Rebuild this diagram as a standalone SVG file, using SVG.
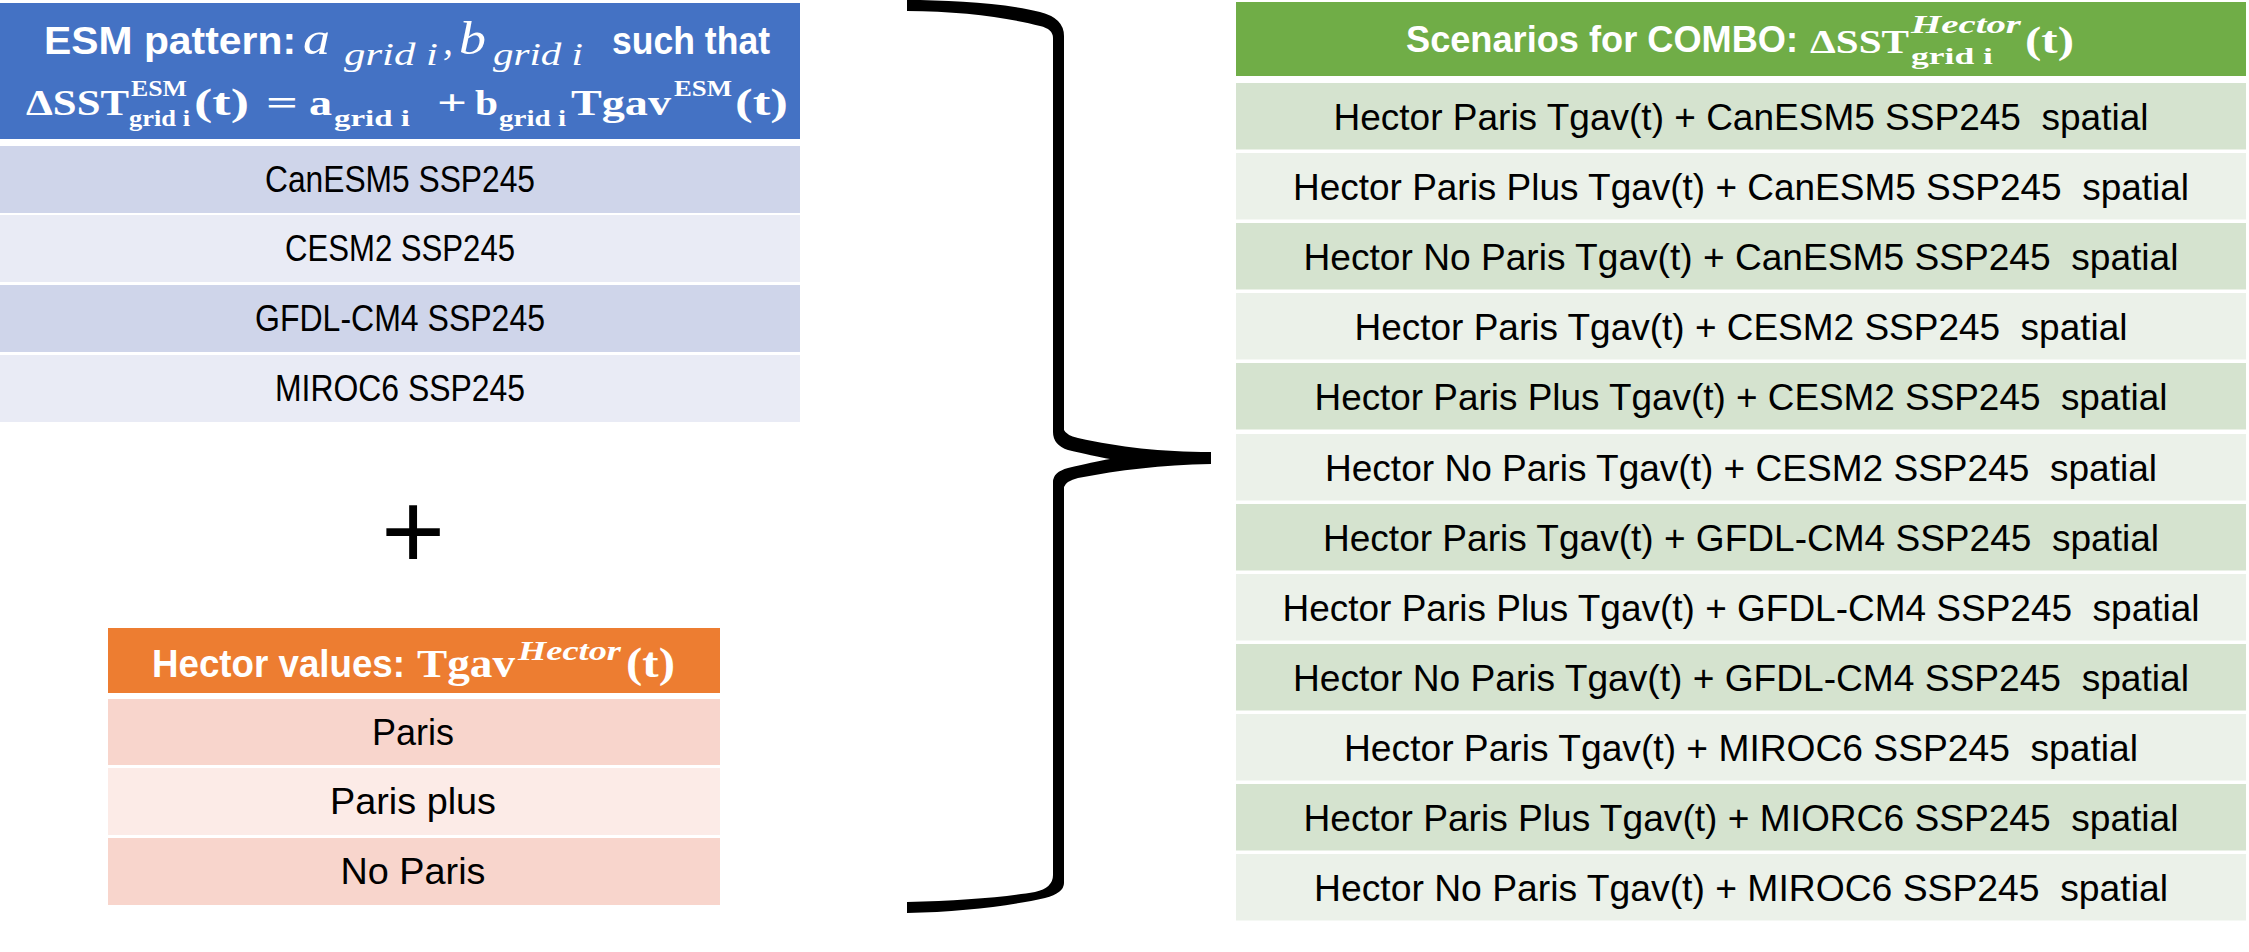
<svg xmlns="http://www.w3.org/2000/svg" width="2249" height="952" viewBox="0 0 2249 952">
<style>
.hdr{font-family:"Liberation Sans",Arial,sans-serif;font-weight:bold;font-size:39px;fill:#fff}
.m{font-family:"Liberation Serif","Times New Roman",serif;font-weight:bold;fill:#fff}
.mi{font-family:"Liberation Serif","Times New Roman",serif;font-style:italic;fill:#fff}
.mbi{font-family:"Liberation Serif","Times New Roman",serif;font-style:italic;font-weight:bold;fill:#fff}
.row{font-family:"Liberation Sans",Arial,sans-serif;font-size:37px;fill:#000;text-anchor:middle;white-space:pre}
.rowl{font-family:"Liberation Sans",Arial,sans-serif;font-size:37px;fill:#000;text-anchor:middle}
.b1{fill:#CFD5EA}.b2{fill:#E9EBF5}
.o1{fill:#F8D5CC}.o2{fill:#FCEBE7}
.g1{fill:#D5E3CF}.g2{fill:#EBF1E9}
</style>
<rect width="2249" height="952" fill="#fff"/>
<g id="esm-table">
<rect x="0" y="3" width="800" height="136" fill="#4472C4"/>
<text class="hdr" x="44" y="54" textLength="252" lengthAdjust="spacingAndGlyphs">ESM pattern:</text>
<text class="mi" x="303" y="54" font-size="46" textLength="27" lengthAdjust="spacingAndGlyphs">a</text>
<text class="mi" x="344" y="65" font-size="31" textLength="94" lengthAdjust="spacingAndGlyphs">grid i</text>
<text class="mi" x="443" y="54" font-size="40">,</text>
<text class="mi" x="459" y="54" font-size="46" textLength="27" lengthAdjust="spacingAndGlyphs">b</text>
<text class="mi" x="493" y="65" font-size="31" textLength="90" lengthAdjust="spacingAndGlyphs">grid i</text>
<text class="hdr" x="612" y="54" textLength="158" lengthAdjust="spacingAndGlyphs">such that</text>
<text class="m" x="26" y="115" font-size="35" textLength="103" lengthAdjust="spacingAndGlyphs">ΔSST</text>
<text class="m" x="131" y="96" font-size="24" textLength="56" lengthAdjust="spacingAndGlyphs">ESM</text>
<text class="m" x="129" y="126" font-size="24" textLength="61" lengthAdjust="spacingAndGlyphs">grid i</text>
<text class="m" x="194" y="115" font-size="38" textLength="55" lengthAdjust="spacingAndGlyphs">(t)</text>
<text class="m" x="266" y="115" font-size="35" textLength="32" lengthAdjust="spacingAndGlyphs">=</text>
<text class="m" x="309" y="115" font-size="35" textLength="23" lengthAdjust="spacingAndGlyphs">a</text>
<text class="m" x="334" y="126" font-size="24" textLength="76" lengthAdjust="spacingAndGlyphs">grid i</text>
<text class="m" x="437" y="115" font-size="35" textLength="30" lengthAdjust="spacingAndGlyphs">+</text>
<text class="m" x="475" y="115" font-size="35" textLength="23" lengthAdjust="spacingAndGlyphs">b</text>
<text class="m" x="499" y="126" font-size="24" textLength="67" lengthAdjust="spacingAndGlyphs">grid i</text>
<text class="m" x="571" y="115" font-size="35" textLength="100" lengthAdjust="spacingAndGlyphs">Tgav</text>
<text class="m" x="674" y="96" font-size="24" textLength="58" lengthAdjust="spacingAndGlyphs">ESM</text>
<text class="m" x="735" y="115" font-size="38" textLength="53" lengthAdjust="spacingAndGlyphs">(t)</text>
<rect class="b1" x="0" y="146" width="800" height="67"/>
<rect class="b2" x="0" y="215" width="800" height="67"/>
<rect class="b1" x="0" y="285" width="800" height="67"/>
<rect class="b2" x="0" y="355" width="800" height="67"/>
<text class="rowl" x="400" y="192" textLength="270" lengthAdjust="spacingAndGlyphs">CanESM5 SSP245</text>
<text class="rowl" x="400" y="261" textLength="230" lengthAdjust="spacingAndGlyphs">CESM2 SSP245</text>
<text class="rowl" x="400" y="331" textLength="290" lengthAdjust="spacingAndGlyphs">GFDL-CM4 SSP245</text>
<text class="rowl" x="400" y="401" textLength="250" lengthAdjust="spacingAndGlyphs">MIROC6 SSP245</text>
</g>
<g id="plus">
<text x="413" y="569" font-family="Liberation Sans, Arial, sans-serif" font-size="110" text-anchor="middle" fill="#000">+</text>
</g>
<g id="hector-table">
<rect x="108" y="628" width="612" height="65" fill="#ED7D31"/>
<text class="hdr" x="152" y="677" textLength="253" lengthAdjust="spacingAndGlyphs">Hector values:</text>
<text class="m" x="417" y="677" font-size="40" textLength="98" lengthAdjust="spacingAndGlyphs">Tgav</text>
<text class="mbi" x="518" y="660" font-size="27" textLength="103" lengthAdjust="spacingAndGlyphs">Hector</text>
<text class="m" x="626" y="677" font-size="42" textLength="49" lengthAdjust="spacingAndGlyphs">(t)</text>
<rect class="o1" x="108" y="699" width="612" height="66"/>
<rect class="o2" x="108" y="768" width="612" height="67"/>
<rect class="o1" x="108" y="838" width="612" height="67"/>
<text class="rowl" x="413" y="745" textLength="82" lengthAdjust="spacingAndGlyphs">Paris</text>
<text class="rowl" x="413" y="814" textLength="166" lengthAdjust="spacingAndGlyphs">Paris plus</text>
<text class="rowl" x="413" y="884" textLength="145" lengthAdjust="spacingAndGlyphs">No Paris</text>
</g>
<g id="connectors">
<path id="brace" fill="#000" d="M907,0 C950,0 1005,3 1040,12 Q1064,18 1064,36 L1064,430 Q1066,435 1078,438 C1120,447 1160,452 1211,452 L1211,464 C1160,465 1120,470 1078,478 Q1066,481 1064,487 L1064,883 Q1064,893 1045,898 C1010,906 960,912 907,913 L907,902 C960,901 1005,897 1035,892 Q1053,888 1053,875 L1053,482 Q1053,472 1068,468 C1085,464 1098,461 1110,459 C1098,457 1085,454 1068,450 Q1053,445 1053,432 L1053,38 Q1053,29 1040,26 C1010,18 960,11 907,11 Z"/>
</g>
<g id="scenario-table">
<rect x="1236" y="2" width="1010" height="74" fill="#70AD47"/>
<text class="hdr" x="1406" y="52" font-size="36" textLength="392" lengthAdjust="spacingAndGlyphs" style="font-size:36px">Scenarios for COMBO:</text>
<text class="m" x="1810" y="53" font-size="33" textLength="99" lengthAdjust="spacingAndGlyphs">ΔSST</text>
<text class="mbi" x="1911" y="33" font-size="25" textLength="110" lengthAdjust="spacingAndGlyphs">Hector</text>
<text class="m" x="1911" y="64" font-size="24" textLength="82" lengthAdjust="spacingAndGlyphs">grid i</text>
<text class="m" x="2025" y="53" font-size="37" textLength="49" lengthAdjust="spacingAndGlyphs">(t)</text>
<rect class="g1" x="1236" y="83" width="1010" height="66.5"/>
<rect class="g2" x="1236" y="153" width="1010" height="66.5"/>
<rect class="g1" x="1236" y="223" width="1010" height="66.5"/>
<rect class="g2" x="1236" y="293" width="1010" height="66.5"/>
<rect class="g1" x="1236" y="363" width="1010" height="66.5"/>
<rect class="g2" x="1236" y="434" width="1010" height="66.5"/>
<rect class="g1" x="1236" y="504" width="1010" height="66.5"/>
<rect class="g2" x="1236" y="574" width="1010" height="66.5"/>
<rect class="g1" x="1236" y="644" width="1010" height="66.5"/>
<rect class="g2" x="1236" y="714" width="1010" height="66.5"/>
<rect class="g1" x="1236" y="784" width="1010" height="66.5"/>
<rect class="g2" x="1236" y="854" width="1010" height="66.5"/>
<text class="row" xml:space="preserve" x="1741" y="130" textLength="815" lengthAdjust="spacingAndGlyphs">Hector Paris Tgav(t) + CanESM5 SSP245  spatial</text>
<text class="row" xml:space="preserve" x="1741" y="200" textLength="896" lengthAdjust="spacingAndGlyphs">Hector Paris Plus Tgav(t) + CanESM5 SSP245  spatial</text>
<text class="row" xml:space="preserve" x="1741" y="270" textLength="875" lengthAdjust="spacingAndGlyphs">Hector No Paris Tgav(t) + CanESM5 SSP245  spatial</text>
<text class="row" xml:space="preserve" x="1741" y="340" textLength="773" lengthAdjust="spacingAndGlyphs">Hector Paris Tgav(t) + CESM2 SSP245  spatial</text>
<text class="row" xml:space="preserve" x="1741" y="410" textLength="853" lengthAdjust="spacingAndGlyphs">Hector Paris Plus Tgav(t) + CESM2 SSP245  spatial</text>
<text class="row" xml:space="preserve" x="1741" y="481" textLength="832" lengthAdjust="spacingAndGlyphs">Hector No Paris Tgav(t) + CESM2 SSP245  spatial</text>
<text class="row" xml:space="preserve" x="1741" y="551" textLength="836" lengthAdjust="spacingAndGlyphs">Hector Paris Tgav(t) + GFDL-CM4 SSP245  spatial</text>
<text class="row" xml:space="preserve" x="1741" y="621" textLength="917" lengthAdjust="spacingAndGlyphs">Hector Paris Plus Tgav(t) + GFDL-CM4 SSP245  spatial</text>
<text class="row" xml:space="preserve" x="1741" y="691" textLength="896" lengthAdjust="spacingAndGlyphs">Hector No Paris Tgav(t) + GFDL-CM4 SSP245  spatial</text>
<text class="row" xml:space="preserve" x="1741" y="761" textLength="794" lengthAdjust="spacingAndGlyphs">Hector Paris Tgav(t) + MIROC6 SSP245  spatial</text>
<text class="row" xml:space="preserve" x="1741" y="831" textLength="875" lengthAdjust="spacingAndGlyphs">Hector Paris Plus Tgav(t) + MIORC6 SSP245  spatial</text>
<text class="row" xml:space="preserve" x="1741" y="901" textLength="854" lengthAdjust="spacingAndGlyphs">Hector No Paris Tgav(t) + MIROC6 SSP245  spatial</text>
</g>
</svg>
